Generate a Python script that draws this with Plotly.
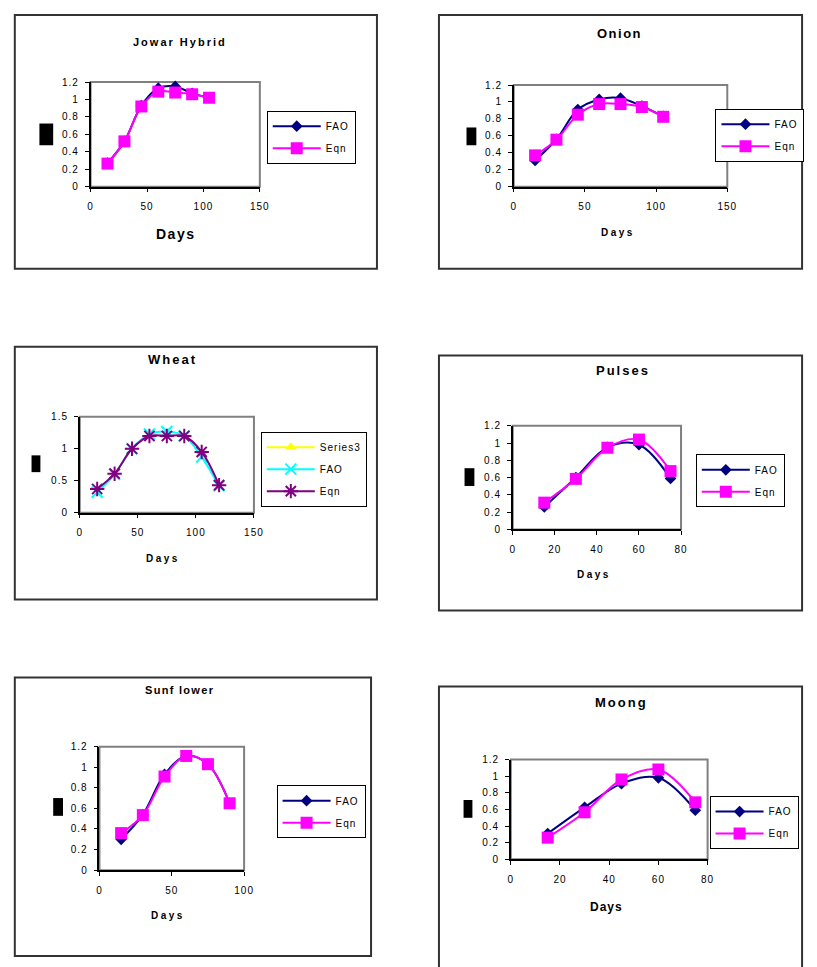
import plotly.graph_objects as go

W, H = 817, 967

# ---------------- data ----------------
jowar_days = [15, 30, 45, 60, 75, 90, 105]
jowar_fao = [0.27, 0.52, 0.93, 1.13, 1.15, 1.07, 1.02]
jowar_eqn = [0.265, 0.52, 0.92, 1.09, 1.08, 1.06, 1.02]

onion_days = [15, 30, 45, 60, 75, 90, 105]
onion_fao = [0.31, 0.56, 0.91, 1.03, 1.045, 0.95, 0.83]
onion_eqn = [0.37, 0.555, 0.85, 0.975, 0.975, 0.94, 0.825]

wheat_days = [15, 30, 45, 60, 75, 90, 105, 120]
wheat_series3 = [None, None, None, None, None, None, None, None]
wheat_fao = [0.32, 0.6, 1.0, 1.23, 1.27, 1.2, 0.87, 0.42]
wheat_eqn = [0.37, 0.61, 1.0, 1.2, 1.2, 1.2, 0.95, 0.43]

pulses_days = [15, 30, 45, 60, 75]
pulses_fao = [0.26, 0.6, 0.95, 0.98, 0.59]
pulses_eqn = [0.31, 0.585, 0.945, 1.04, 0.675]

sunflower_days = [15, 30, 45, 60, 75, 90]
sunflower_fao = [0.30, 0.54, 0.93, 1.11, 1.03, 0.65]
sunflower_eqn = [0.36, 0.535, 0.91, 1.11, 1.03, 0.65]

moong_days = [15, 30, 45, 60, 75]
moong_fao = [0.31, 0.625, 0.91, 0.98, 0.59]
moong_eqn = [0.26, 0.565, 0.96, 1.08, 0.685]

chart_titles = ["Jowar Hybrid", "Onion", "Wheat", "Pulses", "Sunf lower", "Moong"]
x_title = "Days"

x_ticks_150 = [0, 50, 100, 150]
x_ticks_100 = [0, 50, 100]
x_ticks_80 = [0, 20, 40, 60, 80]
y_ticks_12 = [0, 0.2, 0.4, 0.6, 0.8, 1, 1.2]
y_tick_labels_12 = ["0", "0.2", "0.4", "0.6", "0.8", "1", "1.2"]
y_ticks_15 = [0, 0.5, 1, 1.5]
y_tick_labels_15 = ["0", "0.5", "1", "1.5"]

# ---------------- styles ----------------
FONT = "Liberation Sans, Arial, sans-serif"
NAVY, MAGENTA, CYAN, PURPLE, YELLOW = "#000080", "#FF00FF", "#00FFFF", "#800080", "#FFFF00"
STY = {
    "FAO": dict(color=NAVY, symbol="diamond", size=9, lw=0),
    "Eqn": dict(color=MAGENTA, symbol="square", size=12, lw=0),
    "FAO_w": dict(color=CYAN, symbol="x-thin-open", size=11, lw=2),
    "Eqn_w": dict(color=PURPLE, symbol="asterisk-open", size=12, lw=2),
    "S3_w": dict(color=YELLOW, symbol="triangle-up", size=10, lw=0),
}


def sp(text, ls):
    return f'<span style="letter-spacing:{ls}px">{text}</span>'


def px(x):
    return x / W


def py(y):
    return 1 - y / H


panels = [
    dict(series=[("FAO", jowar_days, jowar_fao, "FAO"), ("Eqn", jowar_days, jowar_eqn, "Eqn")],
         xr=150, xt=x_ticks_150, yr=1.2, yt=y_ticks_12, ytl=y_tick_labels_12,
         box=(12, 9, 380, 266), plot=(89, 77, 261, 183), leg=(268, 106), red=(37, 119, 51, 141),
         title=(180, 36, 11, 2.0), days=(175, 231, 14, 1.5)),
    dict(series=[("FAO", onion_days, onion_fao, "FAO"), ("Eqn", onion_days, onion_eqn, "Eqn")],
         xr=150, xt=x_ticks_150, yr=1.2, yt=y_ticks_12, ytl=y_tick_labels_12,
         box=(443, 9, 812, 266), plot=(519, 80, 736, 183), leg=(724, 104), red=(471, 123, 481, 141),
         title=(626, 28, 13, 1.5), days=(625, 229, 10, 2.5)),
    dict(series=[("Series3", wheat_days, wheat_series3, "S3_w"), ("FAO", wheat_days, wheat_fao, "FAO_w"),
                 ("Eqn", wheat_days, wheat_eqn, "Eqn_w")],
         xr=150, xt=x_ticks_150, yr=1.5, yt=y_ticks_15, ytl=y_tick_labels_15,
         box=(12, 345, 380, 601), plot=(78, 416, 255, 513), leg=(262, 431), red=(29, 455, 38, 472),
         title=(172, 358, 13, 2.0), days=(163, 559, 10, 2.5)),
    dict(series=[("FAO", pulses_days, pulses_fao, "FAO"), ("Eqn", pulses_days, pulses_eqn, "Eqn")],
         xr=80, xt=x_ticks_80, yr=1.2, yt=y_ticks_12, ytl=y_tick_labels_12,
         box=(443, 354, 812, 612), plot=(518, 425, 689, 530), leg=(704, 454), red=(469, 468, 479, 486),
         title=(630, 369, 13, 2.0), days=(601, 576, 10, 2.5)),
    dict(series=[("FAO", sunflower_days, sunflower_fao, "FAO"), ("Eqn", sunflower_days, sunflower_eqn, "Eqn")],
         xr=100, xt=x_ticks_100, yr=1.2, yt=y_ticks_12, ytl=y_tick_labels_12,
         box=(12, 680, 374, 962), plot=(98, 750, 245, 875), leg=(278, 789), red=(51, 802, 61, 820),
         title=(179, 693, 11, 1.3), days=(168, 921, 10, 2.5)),
    dict(series=[("FAO", moong_days, moong_fao, "FAO"), ("Eqn", moong_days, moong_eqn, "Eqn")],
         xr=80, xt=x_ticks_80, yr=1.2, yt=y_ticks_12, ytl=y_tick_labels_12,
         box=(443, 689, 812, 975), plot=(516, 763, 716, 864), leg=(718, 800), red=(468, 804, 477, 822),
         title=(629, 705, 13, 2.0), days=(613, 912, 12, 1.0)),
]

fig = go.Figure()
layout = dict(width=W, height=H, autosize=False, margin=dict(l=0, r=0, t=0, b=0),
              paper_bgcolor="white", plot_bgcolor="rgba(0,0,0,0)", showlegend=True,
              font=dict(family=FONT, color="black", size=10))
shapes, annotations = [], []

for i, p in enumerate(panels, start=1):
    xa = "xaxis" if i == 1 else f"xaxis{i}"
    ya = "yaxis" if i == 1 else f"yaxis{i}"
    xr = "x" if i == 1 else f"x{i}"
    yr = "y" if i == 1 else f"y{i}"
    lg = "legend" if i == 1 else f"legend{i}"
    x0, y0, x1, y1 = p["plot"]
    axis_common = dict(showgrid=False, zeroline=False, showline=True, linecolor="black", linewidth=1.5,
                       ticks="outside", ticklen=4, tickcolor="black", tickwidth=1,
                       tickfont=dict(family=FONT, size=10, color="black"), fixedrange=True)
    layout[xa] = dict(domain=[px(x0), px(x1)], anchor=yr, range=[0, p["xr"]], autorange=False,
                      tickmode="array", tickvals=p["xt"], ticktext=[sp(str(v), 1) for v in p["xt"]],
                      ticklabelstandoff=6, **axis_common)
    layout[ya] = dict(domain=[py(y1), py(y0)], anchor=xr, range=[0, p["yr"]], autorange=False,
                      tickmode="array", tickvals=p["yt"], ticktext=[sp(t, 1) for t in p["ytl"]],
                      ticklabelstandoff=4, **axis_common)
    for name, xs, ys, key in p["series"]:
        s = STY[key]
        fig.add_trace(go.Scatter(
            x=xs, y=ys, name=sp(name, 1), mode="lines+markers", xaxis=xr, yaxis=yr, legend=lg,
            legendgroup=f"{i}{name}", cliponaxis=False,
            line=dict(color=s["color"], width=2, shape="spline", smoothing=1),
            marker=dict(symbol=s["symbol"], size=s["size"], color=s["color"],
                        line=dict(color=s["color"], width=s["lw"])),
        ))
    lx, ly = p["leg"]
    layout[lg] = dict(x=px(lx), y=py(ly), xanchor="left", yanchor="top", bgcolor="white",
                      bordercolor="black", borderwidth=1, itemwidth=48, tracegroupgap=3,
                      font=dict(family=FONT, size=10, color="black"), traceorder="grouped")
    # plot-area frame (grey, Excel style)
    shapes.append(dict(type="rect", xref=f"{xr} domain", yref=f"{yr} domain", x0=0, x1=1, y0=0, y1=1,
                       line=dict(color="#808080", width=2), layer="below"))
    # outer chart box
    bx0, by0, bx1, by1 = p["box"]
    shapes.append(dict(type="rect", xref="paper", yref="paper", x0=px(bx0), x1=px(bx1), y0=py(by1), y1=py(by0),
                       line=dict(color="#333333", width=2), fillcolor="rgba(0,0,0,0)"))
    # redacted axis title block
    rx0, ry0, rx1, ry1 = p["red"]
    shapes.append(dict(type="rect", xref="paper", yref="paper", x0=px(rx0), x1=px(rx1), y0=py(ry1), y1=py(ry0),
                       line=dict(width=0), fillcolor="black"))
    tx, ty, ts, tls = p["title"]
    annotations.append(dict(text=sp(chart_titles[i - 1], tls), x=px(tx), y=py(ty), xref="paper", yref="paper",
                            xanchor="center", yanchor="middle", showarrow=False,
                            font=dict(family=FONT, size=ts, color="black", weight="bold")))
    dx, dy, ds, dls = p["days"]
    annotations.append(dict(text=sp(x_title, dls), x=px(dx), y=py(dy), xref="paper", yref="paper",
                            xanchor="center", yanchor="middle", showarrow=False,
                            font=dict(family=FONT, size=ds, color="black", weight="bold")))

layout["shapes"] = shapes
layout["annotations"] = annotations
fig.update_layout(**layout)
fig.write_html("out.html")
